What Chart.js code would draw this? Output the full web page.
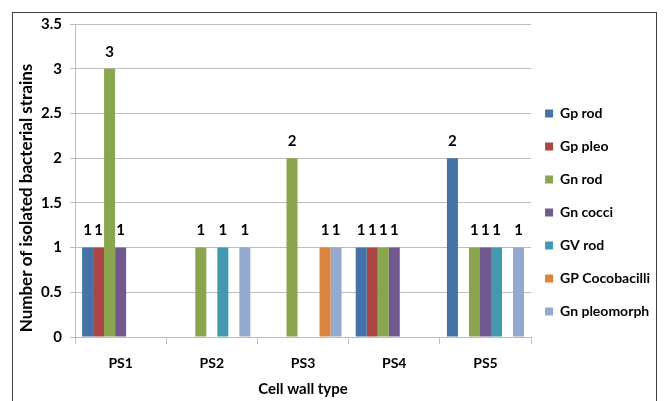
<!DOCTYPE html>
<html><head><meta charset="utf-8">
<script src="https://cdn.jsdelivr.net/npm/chart.js@4"></script>
<style>
html,body{margin:0;padding:0;background:#fff;}
#wrap{position:relative;width:668px;height:401px;overflow:hidden;}
#frame{position:absolute;left:12px;top:12px;width:643px;height:400px;border:1px solid #404040;border-bottom:none;pointer-events:none;}
canvas{display:block;}
</style></head><body>
<div id="wrap"><canvas id="c" width="668" height="401"></canvas><div id="frame"></div></div>
<script>
const categories = ['PS1', 'PS2', 'PS3', 'PS4', 'PS5'];
const seriesNames = ['Gp rod', 'Gp pleo', 'Gn rod', 'Gn cocci', 'GV rod', 'GP Cocobacilli', 'Gn pleomorph'];
const gpRod = [1, 0, 0, 1, 2];
const gpPleo = [1, 0, 0, 1, 0];
const gnRod = [3, 1, 2, 1, 1];
const gnCocci = [1, 0, 0, 1, 1];
const gvRod = [0, 1, 0, 0, 1];
const gpCocobacilli = [0, 0, 1, 0, 0];
const gnPleomorph = [0, 1, 1, 0, 1];
const yTickValues = [0, 0.5, 1, 1.5, 2, 2.5, 3, 3.5];
const xTitle = 'Cell wall type';
const yTitle = 'Number of isolated bacterial strains';

const seriesValues = [gpRod, gpPleo, gnRod, gnCocci, gvRod, gpCocobacilli, gnPleomorph];
const colors = ['#4572A7', '#AA4643', '#89A54E', '#71588F', '#4198AF', '#DB843D', '#93A9CF'];
const FONT = 'Lato';
const GRID = '#BEBEBE';

const valueLabels = {
  id: 'valueLabels',
  afterDatasetsDraw(chart) {
    const ctx = chart.ctx;
    ctx.save();
    ctx.font = 'bold 15px ' + FONT;
    ctx.fillStyle = '#000';
    ctx.textAlign = 'center';
    ctx.textBaseline = 'middle';
    chart.data.datasets.forEach((ds, i) => {
      const meta = chart.getDatasetMeta(i);
      meta.data.forEach((el, j) => {
        const v = ds.data[j];
        if (v) ctx.fillText(String(v), el.x, el.y - 17);
      });
    });
    ctx.restore();
  }
};

const yTitlePlugin = {
  id: 'yTitlePlugin',
  afterDraw(chart) {
    const ctx = chart.ctx;
    ctx.save();
    ctx.font = 'bold 17px ' + FONT;
    ctx.fillStyle = '#000';
    ctx.textAlign = 'center';
    ctx.textBaseline = 'middle';
    ctx.translate(27, 198);
    ctx.rotate(-Math.PI / 2);
    ctx.fillText(yTitle, 0, 0);
    ctx.restore();
  }
};

const legendShift = {
  id: 'legendShift',
  afterLayout(chart) {
    const lg = chart.legend;
    if (lg) { lg.left -= 5; lg.right -= 5; }
  }
};

new Chart(document.getElementById('c'), {
  type: 'bar',
  data: {
    labels: categories,
    datasets: seriesNames.map((name, i) => ({
      label: name,
      data: seriesValues[i],
      backgroundColor: colors[i],
      borderWidth: 0,
      barPercentage: 1,
      categoryPercentage: 0.845
    }))
  },
  options: {
    responsive: false,
    animation: false,
    devicePixelRatio: 1,
    layout: { padding: { top: 24, right: 3, left: 0, bottom: 0 } },
    plugins: {
      legend: {
        position: 'right',
        align: 'center',
        labels: {
          boxWidth: 8, boxHeight: 8, padding: 19,
          color: '#000',
          font: { family: FONT, size: 14, weight: 'bold' }
        }
      },
      tooltip: { enabled: false }
    },
    scales: {
      x: {
        grid: { drawOnChartArea: false, drawTicks: true, tickLength: 7, color: GRID, offset: true },
        border: { color: GRID },
        ticks: { color: '#000', padding: 11, font: { family: FONT, size: 14, weight: 'bold' } },
        title: { display: true, text: xTitle, color: '#000', font: { family: FONT, size: 15, weight: 'bold' }, padding: { top: 0, bottom: 3 } },
        afterFit(s) { s.height = 64; }
      },
      y: {
        min: 0, max: 3.5,
        afterBuildTicks(s) { s.ticks = yTickValues.map(v => ({ value: v })); },
        grid: { color: GRID, tickLength: 5 },
        border: { color: GRID },
        ticks: { color: '#000', padding: 8, font: { family: FONT, size: 15, weight: 'bold' }, callback: v => String(v) },
        afterFit(s) { s.width = 75; }
      }
    }
  },
  plugins: [valueLabels, yTitlePlugin, legendShift]
});
</script>
</body></html>
